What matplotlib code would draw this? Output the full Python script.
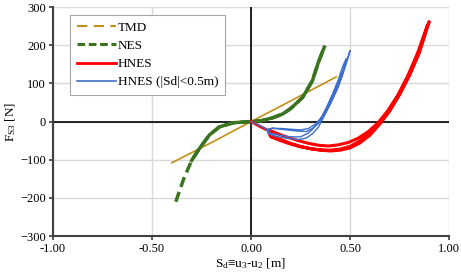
import matplotlib

matplotlib.use("Agg")

import matplotlib.pyplot as plt  # noqa: E402
from matplotlib.lines import Line2D  # noqa: E402

plt.rcParams["font.family"] = ["Liberation Serif", "DejaVu Serif"]
plt.rcParams["mathtext.default"] = "regular"

# --- data ---
tmd_x = [-0.40, -0.20, 0.00, 0.20, 0.43]
tmd_f = [-108, -55, 0, 54, 117]

nes_x = [-0.38, -0.34, -0.30, -0.26, -0.21, -0.16, -0.09, 0.00, 0.05, 0.11,
         0.16, 0.20, 0.26, 0.31, 0.34, 0.37]
nes_f = [-210, -150, -102, -70, -35, -14, -3, 0, 2, 10,
         20, 34, 63, 107, 155, 195]

# HNES: outer (loading) branch then return branch
hnes_x = [0.00, 0.05, 0.09, 0.10, 0.15, 0.20, 0.25, 0.30, 0.35, 0.40, 0.45,
          0.50, 0.55, 0.60, 0.65, 0.70, 0.75, 0.80, 0.85, 0.90,
          0.89, 0.84, 0.79, 0.74, 0.69, 0.64, 0.59, 0.54, 0.49, 0.44,
          0.39, 0.34, 0.29, 0.24, 0.19, 0.14, 0.10, 0.09, 0.10, 0.15,
          0.20, 0.25, 0.30, 0.35, 0.40, 0.45, 0.50, 0.55, 0.60, 0.65,
          0.70, 0.75, 0.80, 0.85, 0.89]
hnes_f = [0, -14, -24, -36, -47, -57, -65, -71, -75, -77, -75,
          -69, -56, -36, -7, 27, 70, 120, 180, 262,
          250, 178, 118, 68, 28, -4, -27, -44, -55, -61,
          -64, -62, -57, -50, -42, -33, -24, -30, -40, -50,
          -59, -66, -71, -74, -75, -72, -65, -51, -30, -2,
          32, 74, 125, 186, 250]

# HNES limited to |Sd| < 0.5 m, several cycles
hnes05_x = [0.00, 0.04, 0.08, 0.09, 0.12, 0.16, 0.20, 0.24, 0.28, 0.31,
            0.34, 0.36, 0.38, 0.40, 0.43, 0.45, 0.47, 0.49, 0.50,
            0.48, 0.46, 0.44, 0.42, 0.40, 0.37, 0.34, 0.31, 0.28, 0.24,
            0.20, 0.15, 0.11, 0.08, 0.10, 0.15, 0.20, 0.25, 0.29, 0.32,
            0.35, 0.38, 0.41, 0.44, 0.46, 0.48,
            0.47, 0.45, 0.42, 0.39, 0.36, 0.33, 0.29, 0.25, 0.20, 0.15,
            0.10, 0.08, 0.09]
hnes05_f = [0, -10, -20, -32, -38, -42, -45, -47, -43, -32,
            -15, 5, 25, 47, 80, 107, 140, 168, 186,
            150, 118, 90, 68, 45, 18, -5, -18, -26, -25,
            -23, -20, -17, -22, -31, -36, -40, -40, -30, -15,
            5, 35, 70, 108, 140, 165,
            140, 115, 78, 45, 15, -5, -18, -22, -20, -18,
            -18, -22, -30]

x_ticks = [-1.0, -0.5, 0.0, 0.5, 1.0]
y_ticks = [-300, -200, -100, 0, 100, 200, 300]

c_tmd = "#c08f16"
c_nes = "#3a7420"
c_hnes = "#ff0000"
c_blue = "#3f6fcc"

fig = plt.figure(figsize=(4.61, 2.72), dpi=100)
ax = fig.add_axes([0.115, 0.132, 0.859, 0.842])

ax.set_xlim(-1, 1)
ax.set_ylim(-300, 300)
ax.set_xticks(x_ticks)
ax.set_yticks(y_ticks)
ax.set_xticklabels([f"{v:.2f}" for v in x_ticks])
ax.grid(True, color="#d9d9d9", linewidth=1.0)
ax.set_axisbelow(True)
ax.axhline(0, color="black", linewidth=1.2, zorder=1)
ax.axvline(0, color="black", linewidth=1.2, zorder=1)

for side in ("top", "right"):
    ax.spines[side].set_visible(False)
for side in ("left", "bottom"):
    ax.spines[side].set_color("#404040")
    ax.spines[side].set_linewidth(1.5)
ax.tick_params(direction="out", length=3, width=1.2, color="#404040",
               labelsize=9, pad=2)

ax.plot(tmd_x, tmd_f, color=c_tmd, linewidth=1.2, zorder=3)

ax.plot(nes_x, nes_f, color=c_nes, linewidth=2.5, dashes=(3, 1.5), zorder=3)
solid = [i for i, v in enumerate(nes_x) if v >= -0.30]
ax.plot([nes_x[i] for i in solid], [nes_f[i] for i in solid],
        color=c_nes, linewidth=2.5, zorder=3)

ax.plot(hnes_x, hnes_f, color=c_hnes, linewidth=2.2, zorder=4)
ax.plot(hnes05_x, hnes05_f, color=c_blue, linewidth=1.0, zorder=5)

handles = [
    Line2D([], [], color=c_tmd, linewidth=1.5, dashes=(5, 3)),
    Line2D([], [], color=c_nes, linewidth=2.2, dashes=(2.5, 1.2)),
    Line2D([], [], color=c_hnes, linewidth=2.0),
    Line2D([], [], color=c_blue, linewidth=1.2),
]
labels = ["TMD", "NES", "HNES", "HNES (|Sd|<0.5m)"]
leg = ax.legend(handles, labels, loc="upper left",
                bbox_to_anchor=(0.043, 0.965), borderaxespad=0,
                fontsize=9.5, frameon=True,
                fancybox=False, edgecolor="#a6a6a6", framealpha=1,
                handlelength=3.0, handletextpad=0.1, labelspacing=0.45,
                borderpad=0.5)
leg.get_frame().set_linewidth(0.8)

ax.set_xlabel(r"S$_d$≡u$_3$-u$_2$ [m]", fontsize=9.5, labelpad=1)
ax.set_ylabel(r"F$_{S3}$ [N]", fontsize=9.5, labelpad=2)

fig.savefig("out.png", dpi=100)
plt.close(fig)
